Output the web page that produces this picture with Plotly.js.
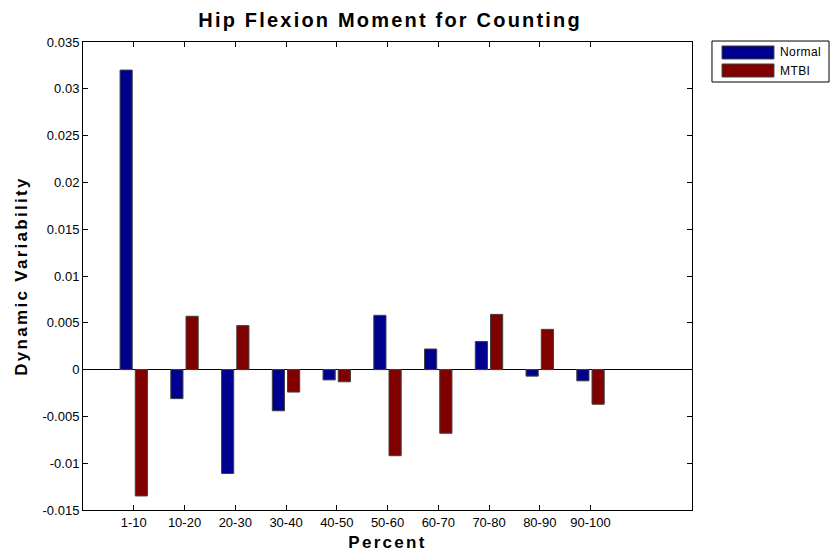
<!DOCTYPE html>
<html>
<head>
<meta charset="utf-8">
<script src="https://cdn.plot.ly/plotly-3.0.1.min.js"></script>
<style>
html,body{margin:0;padding:0;background:#fff;}
#chart{width:830px;height:556px;}
.gtitle{letter-spacing:2.2px;}
.xtitle,.ytitle{letter-spacing:2.3px;}
.annotation-text{letter-spacing:0.4px;}
</style>
</head>
<body>
<div id="chart"></div>
<script>
var categories = ['1-10','10-20','20-30','30-40','40-50','50-60','60-70','70-80','80-90','90-100'];
var positions = [1,2,3,4,5,6,7,8,9,10];
var seriesNames = ['Normal','MTBI'];
var normalValues = [0.0320, -0.0031, -0.0111, -0.0044, -0.0011, 0.0058, 0.0022, 0.0030, -0.0007, -0.0012];
var mtbiValues = [-0.0135, 0.0057, 0.0047, -0.0024, -0.0013, -0.0092, -0.0068, 0.0059, 0.0043, -0.0037];
var yTickVals = [-0.015,-0.01,-0.005,0,0.005,0.01,0.015,0.02,0.025,0.03,0.035];
var yTickText = ['-0.015','-0.01','-0.005','0','0.005','0.01','0.015','0.02','0.025','0.03','0.035'];
var seriesColors = ['#00008F','#800000'];

var font = 'Liberation Sans, Arial, sans-serif';
var edge = '#404040';
var traces = [
  {type:'bar', name:seriesNames[0], x:positions, y:normalValues,
   marker:{color:seriesColors[0], line:{color:edge, width:1}}},
  {type:'bar', name:seriesNames[1], x:positions, y:mtbiValues,
   marker:{color:seriesColors[1], line:{color:edge, width:1}}}
];

// MATLAB-style legend box (wide colour patches), placed in paper coordinates
var legendShapes = [
  {type:'rect', xref:'paper', yref:'paper', x0:1.0328, x1:1.225, y0:0.9145, y1:1.0021,
   line:{color:'#000', width:1}, fillcolor:'#fff', layer:'above'}
];
var legendAnn = [];
var rowTop = [0.9915, 0.9530];
for (var i = 0; i < seriesNames.length; i++) {
  legendShapes.push({type:'rect', xref:'paper', yref:'paper', x0:1.0493, x1:1.1346,
    y0:rowTop[i]-0.0278, y1:rowTop[i], line:{color:edge, width:1}, fillcolor:seriesColors[i], layer:'above'});
  legendAnn.push({xref:'paper', yref:'paper', x:1.1413, y:rowTop[i]-0.0139, xanchor:'left', yanchor:'middle',
    text:seriesNames[i], showarrow:false, font:{family:font, size:12, color:'#000'}});
}

var layout = {
  width:830, height:556,
  paper_bgcolor:'#fff', plot_bgcolor:'#fff',
  margin:{l:83, r:138, t:42, b:46, pad:0},
  barmode:'group', bargap:0.4, bargroupgap:0.2,
  font:{family:font, size:13, color:'#000'},
  title:{text:'<b>Hip Flexion Moment for Counting</b>', font:{family:font, size:20, color:'#000'},
         x:0.47, xanchor:'center', y:0.964, yanchor:'middle'},
  xaxis:{range:[0,12], tickvals:positions, ticktext:categories,
         ticks:'inside', ticklen:5, tickcolor:'#000', showline:true, linecolor:'#000', linewidth:1,
         mirror:'ticks', showgrid:false, zeroline:false,
         tickfont:{family:font, size:13, color:'#000'},
         title:{text:'<b>Percent</b>', font:{family:font, size:17, color:'#000'}, standoff:7}},
  yaxis:{range:[-0.015,0.035], tickvals:yTickVals, ticktext:yTickText,
         ticks:'inside', ticklen:5, tickcolor:'#000', showline:true, linecolor:'#000', linewidth:1,
         mirror:'ticks', showgrid:false, zeroline:true, zerolinecolor:'#000', zerolinewidth:1,
         tickfont:{family:font, size:13, color:'#000'},
         title:{text:'<b>Dynamic Variability</b>', font:{family:font, size:17, color:'#000'}, standoff:10}},
  shapes:legendShapes,
  annotations:legendAnn,
  showlegend:false
};
Plotly.newPlot('chart', traces, layout, {displayModeBar:false, staticPlot:true});
</script>
</body>
</html>
